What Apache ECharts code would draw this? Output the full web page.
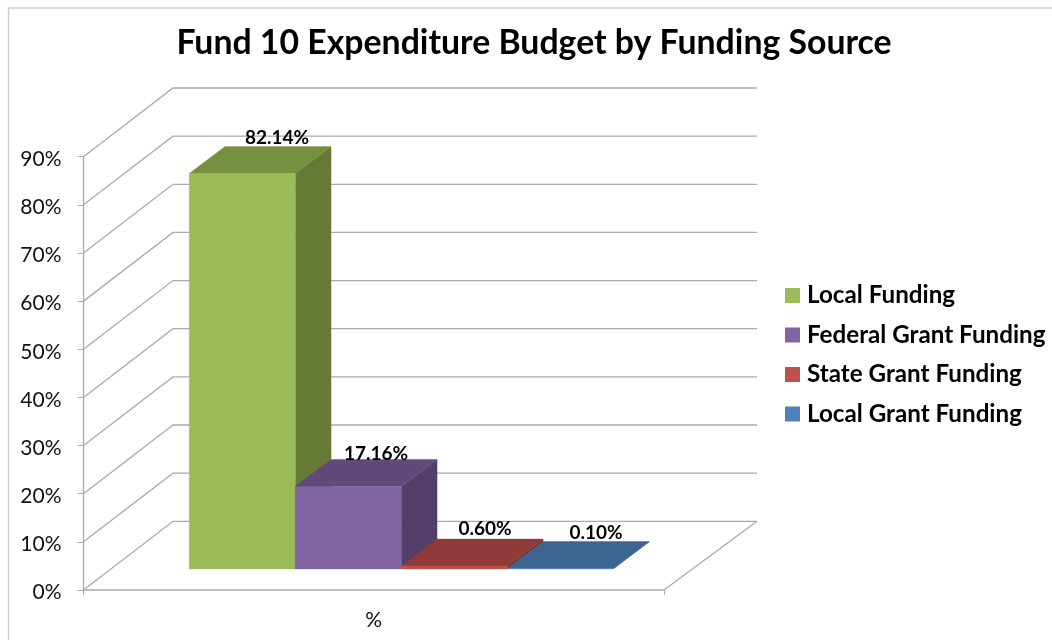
<!DOCTYPE html>
<html>
<head>
<meta charset="utf-8">
<style>html,body{margin:0;padding:0;background:#fff}#chart{width:1052px;height:640px}</style>
<script src="https://cdn.jsdelivr.net/npm/echarts@6/dist/echarts.min.js"></script>
</head>
<body>
<div id="chart"></div>
<script>
// Fund 10 budget shares, in percent
const categories = ['%'];
const sourceNames = ['Local Funding', 'Federal Grant Funding', 'State Grant Funding', 'Local Grant Funding'];
const sourceValues = [82.14, 17.16, 0.60, 0.10];
const yTicks = [0, 10, 20, 30, 40, 50, 60, 70, 80, 90];

// Face colours for each source: front, top, right side
const frontColors = ['#9BBB59', '#8064A2', '#C0504D', '#4F81BD'];
const topColors = ['#76903F', '#604A7B', '#8E3B39', '#3D6592'];
const sideColors = ['#657A36', '#533F69', '#7A302E', '#34557D'];

// Oblique projection of the chart box
const WALL_DX = 89.5, WALL_DY = 68.7;
const WALL_RIGHT_DX = 93;
const BAR_W = 106, BAR_DX = 35.8, BAR_DY = 27;
const BAR_INSET_X = 27.5, BAR_INSET_Y = 21;
const FONT = 'Lato, "Open Sans", sans-serif';

// Value labels sit above each bar's back edge, with small hand adjustments
const labelShiftX = [-1, -8, -5, 0];
const labelShiftY = [-9, -6, -10, -9];

function wallRender(params, api) {
  const tick = api.value(1);
  const p = api.coord([0, tick]);
  const cs = params.coordSys;
  const left = cs.x, right = cs.x + cs.width, y = p[1];
  const children = [{
    type: 'polyline',
    shape: { points: [[left, y], [left + WALL_DX, y - WALL_DY], [right + WALL_RIGHT_DX, y - WALL_DY]] },
    style: { stroke: '#aaaaaa', lineWidth: 1.3, fill: null }
  }];
  if (tick === 0) {
    children.push({
      type: 'line',
      shape: { x1: right, y1: y, x2: right + WALL_RIGHT_DX, y2: y - WALL_DY },
      style: { stroke: '#aaaaaa', lineWidth: 1.3 }
    });
  }
  return { type: 'group', children };
}

function barRender(index) {
  return function (params, api) {
    const value = api.value(1);
    const topPt = api.coord([0, value]);
    const basePt = api.coord([0, 0]);
    const x0 = basePt[0] + BAR_INSET_X + (index - 2) * BAR_W;
    const x1 = x0 + BAR_W;
    const yb = basePt[1] - BAR_INSET_Y;
    const yt = topPt[1] - BAR_INSET_Y;
    const face = (pts, color) => ({
      type: 'polygon',
      shape: { points: pts },
      style: { fill: color, stroke: color, lineWidth: 0.4 }
    });
    return {
      type: 'group',
      children: [
        face([[x1, yb], [x1 + BAR_DX, yb - BAR_DY], [x1 + BAR_DX, yt - BAR_DY], [x1, yt]], sideColors[index]),
        face([[x0, yt], [x1, yt], [x1 + BAR_DX, yt - BAR_DY], [x0 + BAR_DX, yt - BAR_DY]], topColors[index]),
        face([[x0, yb], [x1, yb], [x1, yt], [x0, yt]], frontColors[index]),
        {
          type: 'text',
          z2: 10,
          style: {
            x: (x0 + x1) / 2 + BAR_DX + labelShiftX[index],
            y: yt - BAR_DY + labelShiftY[index],
            text: value.toFixed(2) + '%',
            fill: '#000',
            font: 'bold 19px ' + FONT,
            align: 'center',
            verticalAlign: 'middle'
          }
        }
      ]
    };
  };
}

const barSeries = sourceNames.map((name, i) => ({
  name,
  type: 'custom',
  coordinateSystem: 'cartesian2d',
  clip: false,
  z: 5 + i,
  itemStyle: { color: frontColors[i] },
  renderItem: barRender(i),
  data: [[0, sourceValues[i]]]
}));

const chart = echarts.init(document.getElementById('chart'), null, { renderer: 'canvas' });
chart.setOption({
  animation: false,
  backgroundColor: '#fff',
  title: {
    text: 'Fund 10 Expenditure Budget by Funding Source',
    left: 529,
    top: 21,
    textAlign: 'center',
    textStyle: { fontFamily: FONT, fontWeight: 'bold', fontSize: 33.8, color: '#000' }
  },
  legend: {
    data: sourceNames,
    orient: 'vertical',
    left: 785,
    top: 283,
    padding: 0,
    icon: 'rect',
    itemWidth: 15,
    itemHeight: 15,
    itemGap: 14.5,
    textStyle: { fontFamily: FONT, fontWeight: 'bold', fontSize: 24.2, color: '#000', padding: [0, 0, 0, 2], lineHeight: 25 }
  },
  grid: { left: 83.5, top: 156.7, width: 580.5, height: 433.3 },
  xAxis: {
    type: 'category',
    data: categories,
    axisLine: { lineStyle: { color: '#aaaaaa', width: 1.5 } },
    axisTick: { show: true, length: 5, lineStyle: { color: '#aaaaaa', width: 1 } },
    axisLabel: { fontFamily: FONT, fontSize: 21, color: '#111', margin: 19.5 }
  },
  yAxis: {
    type: 'value',
    min: 0,
    max: 90,
    interval: 10,
    axisLine: { show: true, lineStyle: { color: '#aaaaaa', width: 1.3 } },
    axisTick: { show: true, length: 6, lineStyle: { color: '#aaaaaa', width: 1 } },
    splitLine: { show: false },
    axisLabel: { formatter: '{value}%', fontFamily: FONT, fontSize: 21, color: '#111', margin: 22, verticalAlign: 'top', lineHeight: 5 }
  },
  graphic: [{
    type: 'polyline',
    silent: true,
    shape: { points: [[8.5, 640], [8.5, 8], [1052, 8]] },
    style: { stroke: '#cfcfcf', lineWidth: 1.5, fill: null }
  }],
  series: [{
    name: 'wall',
    type: 'custom',
    coordinateSystem: 'cartesian2d',
    clip: false,
    z: 1,
    silent: true,
    renderItem: wallRender,
    data: yTicks.map(t => [0, t])
  }].concat(barSeries)
});
</script>
</body>
</html>
